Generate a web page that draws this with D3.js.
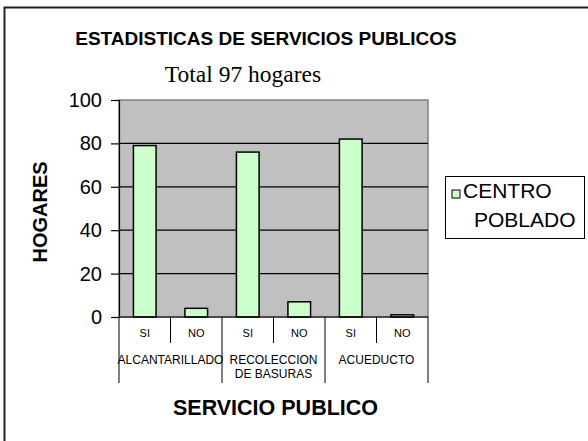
<!DOCTYPE html>
<html><head><meta charset="utf-8">
<script src="https://cdn.jsdelivr.net/npm/d3@7"></script>
<style>body{margin:0;background:#fff}text{font-family:"Liberation Sans",Arial,sans-serif}</style>
</head><body>
<script>
const categories = ["SI","NO","SI","NO","SI","NO"];
const groups = [["ALCANTARILLADO"],["RECOLECCION","DE BASURAS"],["ACUEDUCTO"]];
const values = [79,4,76,7,82,1];
const yTicks = [0,20,40,60,80,100];
const seriesName = ["CENTRO","POBLADO"];

const W=588,H=441;
const svg=d3.select("body").append("svg").attr("width",W).attr("height",H);
svg.append("rect").attr("width",W).attr("height",H).attr("fill","#fff");
svg.append("rect").attr("x",4.5).attr("y",7.5).attr("width",700).attr("height",500)
  .attr("fill","none").attr("stroke","#222").attr("stroke-width",2);

const x0=119,x1=428,yTop=100,yBot=317;
const x=d3.scaleBand().domain(d3.range(categories.length)).range([x0,x1]).paddingInner(0.56).paddingOuter(0.28);
const y=d3.scaleLinear().domain([0,100]).range([yBot,yTop]);

svg.append("text").attr("x",266).attr("y",45).attr("text-anchor","middle")
  .attr("font-size",19).attr("font-weight","bold").text("ESTADISTICAS DE SERVICIOS PUBLICOS");
svg.append("text").attr("x",243).attr("y",82).attr("text-anchor","middle")
  .style("font-family","'Liberation Serif','Times New Roman',serif").attr("font-size",23.5).text("Total 97 hogares");

// plot area
svg.append("rect").attr("x",x0).attr("y",yTop).attr("width",x1-x0).attr("height",yBot-yTop)
  .attr("fill","#c0c0c0").attr("stroke","#808080").attr("stroke-width",1.5);
svg.append("g").selectAll("line").data(yTicks.filter(d=>d>0&&d<100)).join("line")
  .attr("x1",x0).attr("x2",x1).attr("y1",d=>y(d)).attr("y2",d=>y(d)).attr("stroke","#000").attr("stroke-width",1.2);

// y axis
const ya=svg.append("g").attr("transform",`translate(${x0},0)`)
  .call(d3.axisLeft(y).tickValues(yTicks).tickSize(8).tickPadding(9));
ya.select(".domain").attr("stroke","#000").attr("stroke-width",1.2);
ya.selectAll(".tick line").attr("stroke","#000").attr("stroke-width",1.2);
ya.selectAll(".tick text").attr("font-size",20).attr("fill","#000").style("font-family","'Liberation Sans',Arial,sans-serif");

// bars
svg.append("g").selectAll("rect").data(values).join("rect")
  .attr("x",(d,i)=>x(i)).attr("width",x.bandwidth()).attr("y",d=>y(d)).attr("height",d=>y(0)-y(d))
  .attr("fill","#ccffcc").attr("stroke","#000").attr("stroke-width",1.5);

// x axis
svg.append("line").attr("x1",x0).attr("x2",x1).attr("y1",yBot).attr("y2",yBot).attr("stroke","#000").attr("stroke-width",1.2);
const step=x.step();
svg.append("g").selectAll("line").data(d3.range(categories.length+1)).join("line")
  .attr("x1",i=>x0+i*step).attr("x2",i=>x0+i*step).attr("y1",yBot)
  .attr("y2",i=>i%2===0?383:343).attr("stroke","#000").attr("stroke-width",1);
svg.append("g").selectAll("text").data(categories).join("text")
  .attr("x",(d,i)=>x(i)+x.bandwidth()/2).attr("y",337).attr("text-anchor","middle")
  .attr("font-size",11).text(d=>d);
groups.forEach((g,gi)=>{
  const cx=x0+(gi*2+1)*step;
  g.forEach((t,li)=>{
    svg.append("text").attr("x",cx).attr("y",364+li*14).attr("text-anchor","middle")
      .attr("font-size",12).text(t);
  });
});
svg.append("text").attr("x",275.5).attr("y",415).attr("text-anchor","middle")
  .attr("font-size",21.5).attr("font-weight","bold").text("SERVICIO PUBLICO");
svg.append("text").attr("transform","translate(47,212) rotate(-90)").attr("text-anchor","middle")
  .attr("font-size",20).attr("font-weight","bold").text("HOGARES");

// legend
svg.append("rect").attr("x",445.5).attr("y",176.5).attr("width",139).attr("height",62)
  .attr("fill","#fff").attr("stroke","#000").attr("stroke-width",1);
svg.append("rect").attr("x",452).attr("y",190).attr("width",8).attr("height",8)
  .attr("fill","#ccffcc").attr("stroke","#000").attr("stroke-width",1);
svg.append("text").attr("x",463).attr("y",198).attr("font-size",21).text(seriesName[0]);
svg.append("text").attr("x",474).attr("y",227).attr("font-size",21).text(seriesName[1]);
</script>
</body></html>
